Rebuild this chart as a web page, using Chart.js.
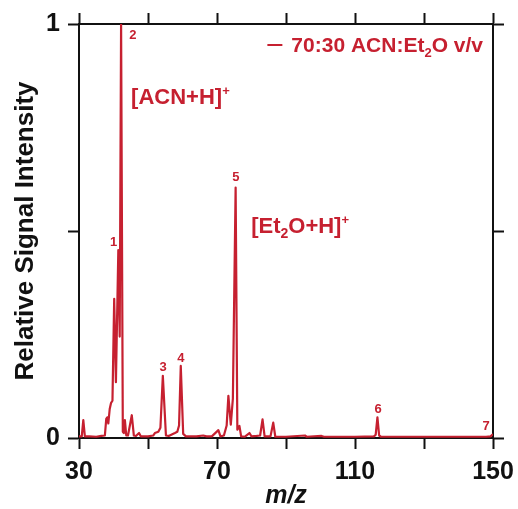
<!DOCTYPE html>
<html>
<head>
<meta charset="utf-8">
<script src="https://cdn.jsdelivr.net/npm/chart.js@4.4.1/dist/chart.umd.min.js"></script>
<style>
  html, body { margin: 0; padding: 0; background: #fff; }
  #wrap { width: 518px; height: 509px; }
</style>
</head>
<body>
<div id="wrap"><canvas id="spectrum" width="518" height="509"></canvas></div>
<script>
// spectrum trace (m/z, relative intensity)
const mz = [30.0, 30.8, 31.25, 31.7, 33.0, 35.0, 36.5, 37.5, 37.9, 38.2, 38.5, 38.9, 39.3, 39.7, 40.2, 40.7,
  41.4, 41.8, 42.2, 42.7, 43.0, 43.3, 43.7, 44.2, 45.3, 45.9, 46.5, 47.4, 47.9, 50.0, 51.5, 52.0,
  53.0, 53.6, 54.3, 55.2, 56.0, 57.8, 58.5, 59.0, 59.5, 60.2, 61.0, 64.0, 66.0, 67.0, 68.5, 70.4,
  71.0, 72.0, 72.8, 73.3, 74.0, 74.6, 75.4, 75.9, 76.5, 77.0, 78.0, 79.4, 80.0, 81.5, 82.5, 83.2,
  83.8, 85.5, 86.3, 86.9, 90.0, 95.5, 96.0, 100.3, 101.0, 110.0, 115.5, 116.0, 116.5, 117.0, 117.5,
  130.0, 148.0, 149.3, 149.8, 150.0];
const intensity = [0.004, 0.004, 0.043, 0.004, 0.004, 0.003, 0.005, 0.006, 0.046, 0.05, 0.035, 0.07, 0.085, 0.09, 0.336, 0.135,
  0.454, 0.245, 1.0, 0.015, 0.012, 0.043, 0.006, 0.006, 0.055, 0.006, 0.005, 0.012, 0.004, 0.004, 0.006, 0.012,
  0.015, 0.025, 0.150, 0.006, 0.005, 0.012, 0.015, 0.03, 0.174, 0.01, 0.004, 0.004, 0.006, 0.004, 0.004, 0.019,
  0.004, 0.006, 0.03, 0.102, 0.032, 0.095, 0.605, 0.02, 0.029, 0.004, 0.003, 0.012, 0.004, 0.005, 0.006, 0.045,
  0.004, 0.004, 0.037, 0.003, 0.003, 0.006, 0.003, 0.005, 0.003, 0.003, 0.004, 0.008, 0.05, 0.006, 0.003,
  0.003, 0.003, 0.004, 0.008, 0.006];

// peak numbers and where they sit
const peakNames = ['1', '2', '3', '4', '5', '6', '7'];
const peakNameMz = [40.0, 45.6, 54.35, 59.55, 75.5, 116.7, 148.0];
const peakNameY = [0.473, 0.973, 0.171, 0.193, 0.630, 0.068, 0.027];

const xTickLabels = [30, 70, 110, 150];
const yTickLabels = [0, 1];

const RED = '#c62030';
const FONT = '"Liberation Sans", Arial, Helvetica, sans-serif';

const points = mz.map((m, i) => ({ x: m, y: intensity[i] }));

function drawRich(ctx, x, y, parts) {
  let cx = x;
  parts.forEach(p => {
    ctx.font = 'bold ' + p.size + 'px ' + FONT;
    ctx.fillText(p.t, cx, y + (p.dy || 0));
    cx += ctx.measureText(p.t).width;
  });
  return cx - x;
}
function richWidth(ctx, parts) {
  let w = 0;
  parts.forEach(p => {
    ctx.font = 'bold ' + p.size + 'px ' + FONT;
    w += ctx.measureText(p.t).width;
  });
  return w;
}

const labelsPlugin = {
  id: 'labels',
  afterDatasetsDraw(chart) {
    const ctx = chart.ctx;
    const xs = chart.scales.x, ys = chart.scales.y;
    ctx.save();
    ctx.fillStyle = RED;
    ctx.textAlign = 'center';
    ctx.textBaseline = 'middle';
    ctx.font = 'bold 13px ' + FONT;
    peakNames.forEach((n, i) => {
      ctx.fillText(n, xs.getPixelForValue(peakNameMz[i]), ys.getPixelForValue(peakNameY[i]));
    });

    ctx.textAlign = 'left';
    ctx.textBaseline = 'alphabetic';
    drawRich(ctx, xs.getPixelForValue(45.1), ys.getPixelForValue(0.807), [
      { t: '[ACN+H]', size: 22 }, { t: '+', size: 13, dy: -9 }
    ]);
    drawRich(ctx, xs.getPixelForValue(79.9), ys.getPixelForValue(0.495), [
      { t: '[Et', size: 22 }, { t: '2', size: 14, dy: 5 }, { t: 'O+H]', size: 22 }, { t: '+', size: 13, dy: -9 }
    ]);

    // legend
    const leg = [{ t: '70:30 ACN:Et', size: 21 }, { t: '2', size: 13, dy: 5 }, { t: 'O v/v', size: 21 }];
    const w = richWidth(ctx, leg);
    const tx = chart.chartArea.right - 10 - w;
    const ty = chart.chartArea.top + 28;
    drawRich(ctx, tx, ty, leg);
    ctx.strokeStyle = RED;
    ctx.lineWidth = 2;
    ctx.beginPath();
    ctx.moveTo(tx - 24, ty - 7);
    ctx.lineTo(tx - 9, ty - 7);
    ctx.stroke();
    ctx.restore();
  }
};

const axisCommon = {
  grid: { drawOnChartArea: false, drawTicks: true, tickLength: 11, tickWidth: 2, tickColor: '#111' },
  border: { display: true, color: '#111', width: 2 }
};

function noPad(s) {
  s.paddingLeft = 0; s.paddingRight = 0; s.paddingTop = 0; s.paddingBottom = 0;
}

new Chart(document.getElementById('spectrum'), {
  type: 'line',
  data: {
    datasets: [{
      data: points,
      borderColor: RED,
      borderWidth: 2.2,
      borderJoinStyle: 'round',
      pointRadius: 0,
      tension: 0,
      fill: false
    }]
  },
  options: {
    responsive: false,
    animation: false,
    layout: { padding: 0 },
    plugins: { legend: { display: false }, tooltip: { enabled: false } },
    scales: {
      x: {
        type: 'linear', position: 'bottom', min: 30, max: 150,
        ...axisCommon,
        ticks: {
          stepSize: 20, color: '#111', padding: 8,
          font: { family: FONT, size: 25, weight: 'bold' },
          maxRotation: 0, autoSkip: false,
          callback: v => xTickLabels.includes(v) ? String(v) : ''
        },
        title: {
          display: true, text: 'm/z', color: '#111', padding: 0,
          font: { family: FONT, size: 25, weight: 'bold', style: 'italic', lineHeight: 1 }
        },
        afterFit: s => { s.height = 71; noPad(s); }
      },
      x2: {
        type: 'linear', position: 'top', min: 30, max: 150,
        ...axisCommon,
        ticks: { stepSize: 20, callback: () => '', font: { size: 1 } },
        afterFit: s => { s.height = 24; noPad(s); }
      },
      y: {
        type: 'linear', position: 'left', min: 0, max: 1,
        ...axisCommon,
        ticks: {
          stepSize: 0.5, color: '#111', padding: 8,
          font: { family: FONT, size: 25, weight: 'bold' },
          callback: v => yTickLabels.includes(v) ? String(v) : ''
        },
        title: {
          display: true, text: 'Relative Signal Intensity', color: '#111',
          padding: { top: 10, bottom: 0 },
          font: { family: FONT, size: 26, weight: 'bold' }
        },
        afterFit: s => { s.width = 79; noPad(s); }
      },
      y2: {
        type: 'linear', position: 'right', min: 0, max: 1,
        ...axisCommon,
        ticks: { stepSize: 0.5, callback: () => '', font: { size: 1 } },
        afterFit: s => { s.width = 25; noPad(s); }
      }
    }
  },
  plugins: [labelsPlugin]
});
</script>
</body>
</html>
